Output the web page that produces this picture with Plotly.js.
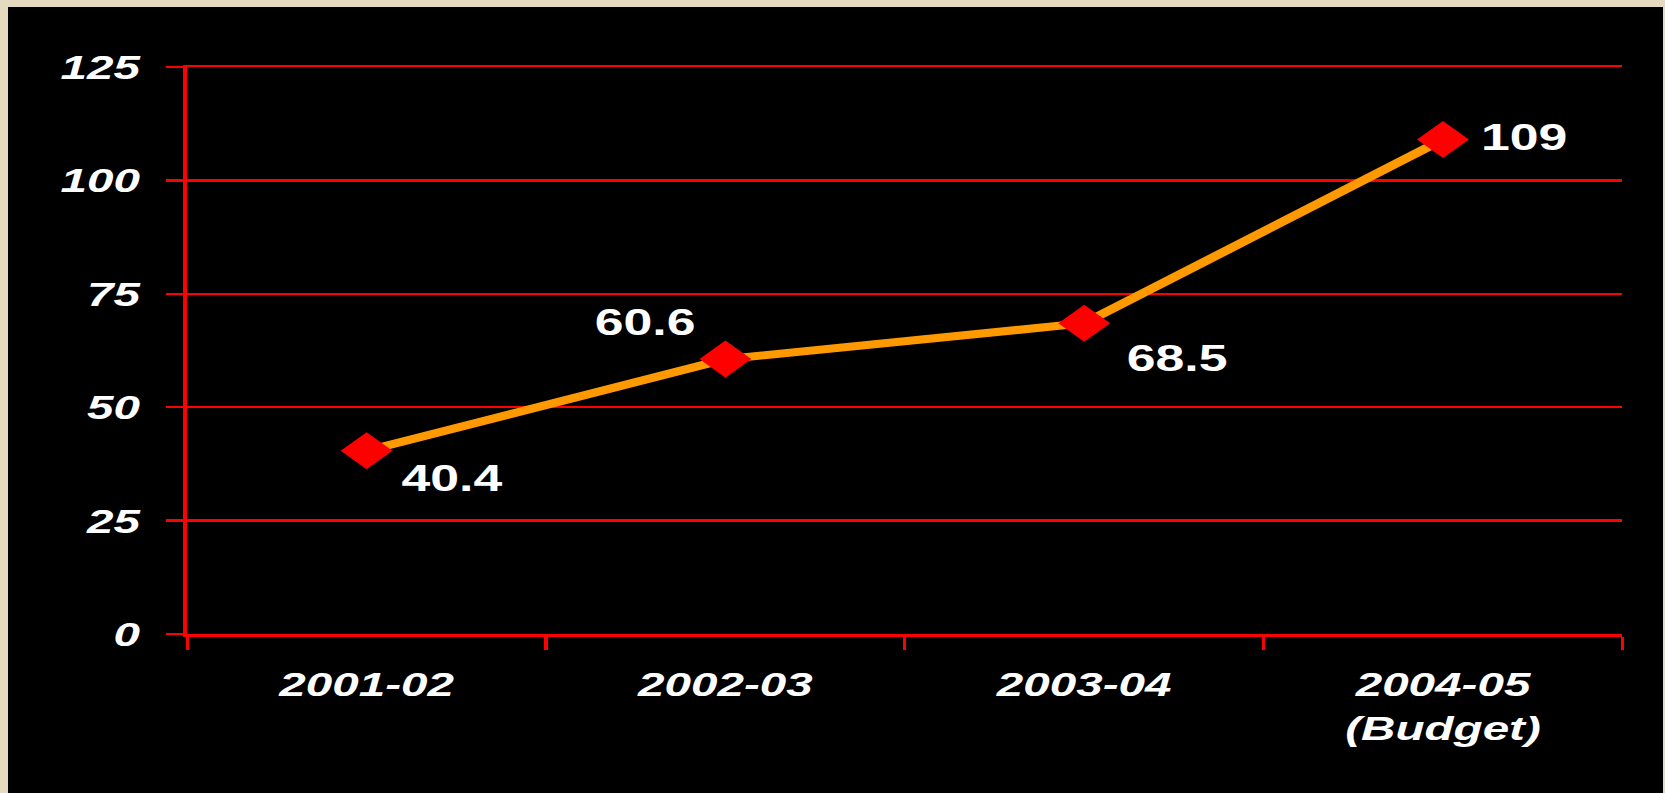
<!DOCTYPE html>
<html>
<head>
<meta charset="utf-8">
<script src="https://cdn.plot.ly/plotly-3.0.1.min.js"></script>
<style>
  html, body { margin:0; padding:0; width:1665px; height:793px; overflow:hidden; background:#E5D9BF; }
  #chart { position:absolute; left:8px; top:7px; width:1182px; height:786px;
           transform: scaleX(1.40017); transform-origin: 0 0; background:#000; }
</style>
</head>
<body>
<div id="chart"></div>
<script>
const categories = ["2001-02", "2002-03", "2003-04", "2004-05<br>(Budget)"];
const values = [40.4, 60.6, 68.5, 109];
const valueLabels = ["40.4", "60.6", "68.5", "109"];
const yTicks = [0, 25, 50, 75, 100, 125];

const labelPlacement = [
  {xanchor:"left",  xshift:22.5, yshift:-28},
  {xanchor:"right", xshift:-19,  yshift:37},
  {xanchor:"left",  xshift:28,   yshift:-35},
  {xanchor:"left",  xshift:25,   yshift:2}
];

const trace = {
  x: categories,
  y: values,
  type: "scatter",
  mode: "lines+markers",
  line: {color:"#FF9900", width:8},
  marker: {symbol:"diamond", size:28.5, color:"#FF0000", line:{width:0}},
  hoverinfo: "skip",
  cliponaxis: false
};

const annotations = categories.map((c, i) => Object.assign({
  x: c, y: values[i], xref:"x", yref:"y",
  text: valueLabels[i], showarrow:false, yanchor:"middle",
  font: {family:"Liberation Sans, Arial, sans-serif", size:37, color:"#FFFFFF", weight:"bold"}
}, labelPlacement[i]));

const tickFont = {family:"Liberation Sans, Arial, sans-serif", size:34, color:"#FFFFFF", weight:"bold", style:"italic"};

const layout = {
  width:1182, height:786,
  margin:{l:128, r:29, t:60, b:159},
  paper_bgcolor:"#000000",
  plot_bgcolor:"#000000",
  showlegend:false,
  xaxis:{
    type:"category",
    range:[-0.5, 3.5],
    tickson:"boundaries",
    ticks:"outside", ticklen:13, tickwidth:2.4, tickcolor:"#FF0000",
    showgrid:false, zeroline:false,
    showline:true, linecolor:"#FF0000", linewidth:2.5,
    mirror:true,
    tickfont:tickFont,
    ticklabelstandoff:19,
    fixedrange:true
  },
  yaxis:{
    range:[0, 125],
    tickvals:yTicks,
    ticktext:yTicks.map(String),
    ticks:"outside", ticklen:12, tickwidth:2.5, tickcolor:"#FF0000",
    showgrid:true, gridcolor:"#FF0000", gridwidth:2.5,
    zeroline:false,
    showline:true, linecolor:"#FF0000", linewidth:3,
    tickfont:tickFont,
    ticklabelstandoff:12,
    fixedrange:true
  },
  annotations: annotations
};

Plotly.newPlot("chart", [trace], layout, {displayModeBar:false, staticPlot:true});
</script>
</body>
</html>
